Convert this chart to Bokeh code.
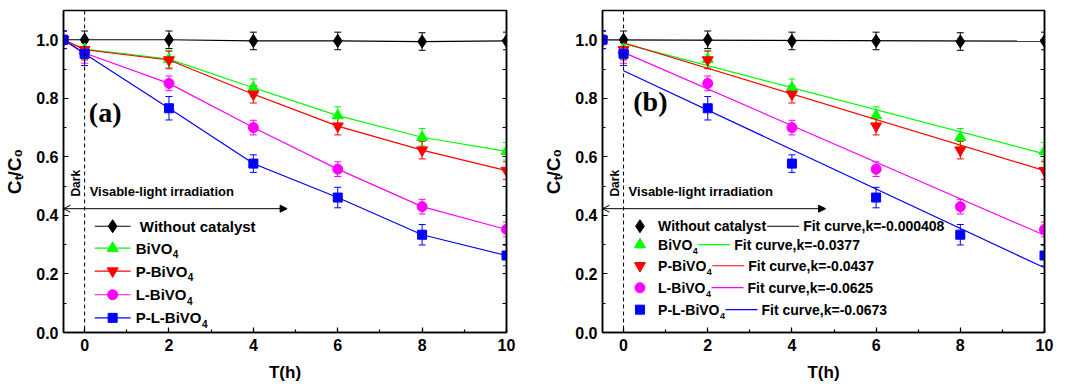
import math
from bokeh.plotting import figure
from bokeh.models import (Range1d, LinearAxis, SingleIntervalTicker, FixedTicker, Span, Label, Arrow,
                          OpenHead, NormalHead, Whisker, TeeHead, ColumnDataSource, PrintfTickFormatter)
from bokeh.layouts import row
from bokeh.embed import file_html
from bokeh.resources import INLINE

# ---------------- data ----------------
time_h = [-0.5, 0, 2, 4, 6, 8, 10]

without_catalyst = [1.000, 1.000, 1.000, 0.996, 0.996, 0.994, 0.996]
bivo4 = [1.000, 0.968, 0.934, 0.836, 0.741, 0.667, 0.619]
p_bivo4 = [1.000, 0.966, 0.931, 0.814, 0.705, 0.623, 0.553]
l_bivo4 = [1.000, 0.955, 0.851, 0.700, 0.558, 0.430, 0.352]
p_l_bivo4 = [1.000, 0.952, 0.766, 0.577, 0.461, 0.334, 0.263]

err_without = [0.03, 0.03, 0.03, 0.03, 0.03, 0.03, 0.03]
err_bivo4 = [0.03, 0.035, 0.03, 0.03, 0.03, 0.03, 0.03]
err_p_bivo4 = [0.03, 0.035, 0.03, 0.03, 0.03, 0.03, 0.03]
err_l_bivo4 = [0.03, 0.035, 0.025, 0.025, 0.025, 0.025, 0.025]
err_p_l_bivo4 = [0.03, 0.04, 0.04, 0.03, 0.035, 0.035, 0.035]

series_main = ["Without catalyst", "BiVO", "P-BiVO", "L-BiVO", "P-L-BiVO"]
series_sub = ["", "4", "4", "4", "4"]

# linear fit (panel b): y = b + k*t
fit_k = [-0.000408, -0.0377, -0.0437, -0.0625, -0.0673]
fit_k_text = ["-0.000408", "-0.0377", "-0.0437", "-0.0625", "-0.0673"]
fit_b = [0.9995, 0.987, 0.990, 0.957, 0.894]
fit_t = [[-0.5, 10], [0, 10], [0, 10], [0, 10], [0, 10]]

x_ticks_interval = 2
y_ticks_interval = 0.2
right_tick_positions = [0.0, 0.1, 0.2, 0.3, 0.4, 0.5, 0.6, 0.7, 0.8, 0.9, 1.0, 1.1]
y_title = "Cₜ/C₀"
x_title = "T(h)"

# ---------------- styles ----------------
colors = ["#000000", "#00ff00", "#ff0000", "#ff00ff", "#0000ff"]
markers = ["diamond", "triangle", "inverted_triangle", "circle", "square"]
msizes = [13, 11, 11, 10, 9]
values = [without_catalyst, bivo4, p_bivo4, l_bivo4, p_l_bivo4]
errors = [err_without, err_bivo4, err_p_bivo4, err_l_bivo4, err_p_l_bivo4]

FONT = "Liberation Sans"
PX = 1.1 / 323.0  # data units per pixel (y)
XPX = 1.0 / 42.1  # data units per pixel (x)


def lbl(p, x, y, text, size, bold=True, angle=0.0, align="left", baseline="middle",
        x_offset=0, font=FONT):
    p.add_layout(Label(x=x, y=y, text=text, text_font=font,
                       text_font_style="bold" if bold else "normal",
                       text_font_size=size, angle=angle, text_align=align,
                       text_baseline=baseline, x_offset=x_offset, text_color="black"))


def make_panel(tag, fit, width, bleft):
    p = figure(width=width, height=384, x_range=Range1d(-0.5, 10), y_range=Range1d(0, 1.1),
               output_backend="svg", toolbar_location=None,
               min_border_left=bleft, min_border_right=31, min_border_top=10,
               min_border_bottom=51)
    p.xgrid.visible = False
    p.ygrid.visible = False
    p.outline_line_color = "black"
    p.outline_line_width = 1.5
    p.background_fill_color = "white"
    p.border_fill_color = "white"

    p.xaxis.ticker = SingleIntervalTicker(interval=x_ticks_interval, num_minor_ticks=2)
    p.yaxis.ticker = SingleIntervalTicker(interval=y_ticks_interval, num_minor_ticks=2)
    p.yaxis.formatter = PrintfTickFormatter(format="%.1f")
    for ax in (p.xaxis[0], p.yaxis[0]):
        ax.axis_line_width = 1.5
        ax.axis_line_color = "black"
        ax.major_tick_in = 5
        ax.major_tick_out = 0
        ax.minor_tick_in = 3
        ax.minor_tick_out = 0
        ax.major_tick_line_width = 1.2
        ax.minor_tick_line_width = 1.2
        ax.major_tick_line_color = "black"
        ax.minor_tick_line_color = "black"
        ax.major_label_text_font = FONT
        ax.major_label_text_font_style = "bold"
        ax.major_label_text_font_size = "16px"
        ax.major_label_text_color = "black"
        ax.axis_label_text_font = FONT
        ax.axis_label_text_font_style = "bold"
        ax.axis_label_text_color = "black"
    p.xaxis.major_label_standoff = 6
    p.yaxis.major_label_standoff = 5
    p.xaxis.axis_label = x_title
    p.xaxis.axis_label_text_font_size = "17px"
    p.xaxis.axis_label_standoff = 9
    p.yaxis.axis_label = y_title
    p.yaxis.axis_label_text_font_size = "19px"
    p.yaxis.axis_label_standoff = 8

    rax = LinearAxis(ticker=FixedTicker(ticks=[], minor_ticks=right_tick_positions),
                     minor_tick_in=4, minor_tick_out=0, minor_tick_line_width=1.2,
                     minor_tick_line_color="black", major_tick_in=0, major_tick_out=0,
                     axis_line_width=1.5, axis_line_color="black")
    p.add_layout(rax, "right")

    # dark / light separation
    p.add_layout(Span(location=0, dimension="height", line_color="black",
                      line_dash="4 3", line_width=1))
    p.add_layout(Arrow(x_start=-0.5, y_start=0.423, x_end=4.8, y_end=0.423,
                       line_color="black", line_width=1,
                       start=OpenHead(size=7, line_color="black", line_width=1),
                       end=NormalHead(size=7, fill_color="black", line_color="black")))
    lbl(p, -0.2, 0.51, "Dark", "12px", bold=True, angle=math.pi / 2, align="center")
    lbl(p, 0.12, 0.48, "Visable-light irradiation", "13px", bold=True)

    # data
    for i in range(5):
        src = ColumnDataSource(dict(x=time_h, y=values[i],
                                    lo=[v - e for v, e in zip(values[i], errors[i])],
                                    hi=[v + e for v, e in zip(values[i], errors[i])]))
        p.add_layout(Whisker(source=src, base="x", upper="hi", lower="lo",
                             line_color=colors[i], line_width=1,
                             upper_head=TeeHead(size=7, line_color=colors[i], line_width=1),
                             lower_head=TeeHead(size=7, line_color=colors[i], line_width=1)))
        if fit:
            fx = fit_t[i]
            fy = [fit_b[i] + fit_k[i] * t for t in fx]
            p.line(fx, fy, line_color=colors[i], line_width=1.2)
        else:
            p.line("x", "y", source=src, line_color=colors[i], line_width=1.2)
        p.scatter("x", "y", source=src, marker=markers[i], size=msizes[i],
                  fill_color=colors[i], line_color=colors[i])

    # panel tag
    if fit:
        lbl(p, 0.23, 0.79, tag, "28px", font="Liberation Serif")
    else:
        lbl(p, 0.10, 0.75, tag, "28px", font="Liberation Serif")

    # legends (layout positions)
    if not fit:
        rows = [0.363, 0.288, 0.210, 0.129, 0.050]
        for i in range(5):
            y = rows[i]
            p.line([0.24, 1.09], [y, y], line_color=colors[i], line_width=1.2)
            p.scatter([0.665], [y], marker=markers[i], size=msizes[i],
                      fill_color=colors[i], line_color=colors[i])
            tx = 1.31 if i == 0 else 1.21
            lbl(p, tx, y, series_main[i], "15px")
            if series_sub[i]:
                w = {"BiVO": 36.7, "P-BiVO": 51.7, "L-BiVO": 50.8, "P-L-BiVO": 65.8}[series_main[i]]
                lbl(p, tx, y - 6 * PX, series_sub[i], "10px", x_offset=w + 0.5)
    else:
        rows = [0.363, 0.300, 0.228, 0.153, 0.078]
        label_w = [108.1, 39.2, 53.2, 52.4, 66.4]
        for i in range(5):
            y = rows[i]
            p.scatter([0.39], [y], marker=markers[i], size=msizes[i],
                      fill_color=colors[i], line_color=colors[i])
            tx = 0.82
            lbl(p, tx, y, series_main[i], "14px")
            if series_sub[i]:
                w = {"BiVO": 34.2, "P-BiVO": 48.2, "L-BiVO": 47.4, "P-L-BiVO": 61.4}[series_main[i]]
                lbl(p, tx, y - 6 * PX, series_sub[i], "9px", x_offset=w + 0.5)
            x0 = tx + (label_w[i] + 1) * XPX
            x1 = x0 + 32 * XPX
            p.line([x0, x1], [y, y], line_color=colors[i], line_width=1.2)
            lbl(p, x1 + 4 * XPX, y, "Fit curve,k=" + fit_k_text[i], "14px")
    return p


p1 = make_panel("(a)", False, 537, 63)
p2 = make_panel("(b)", True, 538, 65)
layout = row(p1, p2)

open("out.html", "w").write(file_html(layout, INLINE))
